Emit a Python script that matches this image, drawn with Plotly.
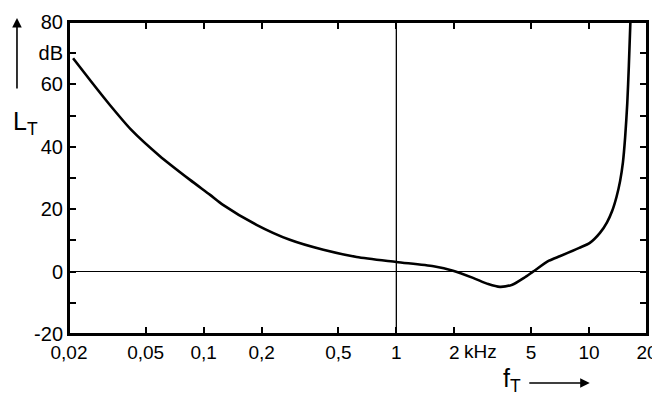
import plotly.graph_objects as go
import math

# Threshold of hearing curve (frequency in kHz, level in dB)
freq_khz = [0.021, 0.026, 0.0326, 0.042, 0.0593, 0.085, 0.108, 0.126, 0.188, 0.28, 0.418, 0.622,
            1.0, 1.56, 1.97, 2.5, 3.0, 3.45, 4.0, 4.6, 5.1, 6.2, 7.1, 8.9, 10.1,
            11.4, 12.4, 13.2, 13.9, 14.5, 15.0, 15.4, 15.8, 16.1, 16.4]
level_db = [68.4, 61.0, 53.4, 45.5, 37.0, 29.4, 24.6, 21.4, 15.0, 10.2, 7.0, 4.7,
            3.1, 1.7, 0.3, -2.0, -4.0, -4.9, -4.2, -2.0, -0.1, 3.5, 5.0, 7.6, 9.2,
            12.4, 15.8, 19.5, 24.0, 29.0, 35.0, 43.0, 54.0, 66.0, 80.0]

x_tickvals = [0.02, 0.05, 0.1, 0.2, 0.5, 1, 2, 5, 10, 20]
x_ticktext = ["0,02", "0,05", "0,1", "0,2", "0,5", "1", "2", "5", "10", "20"]
y_tickvals = [-20, -10, 0, 10, 20, 30, 40, 50, 60, 70, 80]
y_ticktext = ["-20", "", "0", "", "20", "", "40", "", "60", "dB", "80"]

FONT = "Liberation Sans"
x_lo, x_hi = math.log10(0.02), math.log10(20)


def xpaper(f):
    return (math.log10(f) - x_lo) / (x_hi - x_lo)


fig = go.Figure()
fig.add_trace(go.Scatter(
    x=freq_khz, y=level_db, mode="lines",
    line=dict(color="black", width=2.6, shape="spline", smoothing=0.7),
    showlegend=False, hoverinfo="skip",
))

# page body has an 8px margin, so the figure is 652x392 placed at (8, 8)
fig.update_layout(
    width=652, height=392,
    margin=dict(l=61, r=13, t=14, b=66, autoexpand=False),
    paper_bgcolor="white", plot_bgcolor="white",
    font=dict(family=FONT, size=18, color="black"),
    xaxis=dict(
        type="log", range=[x_lo, x_hi],
        tickvals=x_tickvals, ticktext=x_ticktext,
        ticks="inside", ticklen=7, tickwidth=1.5, tickcolor="black",
        showline=True, linecolor="black", linewidth=2, mirror="ticks",
        showgrid=False, zeroline=False, automargin=False,
        tickfont=dict(family=FONT, size=19, color="black"),
    ),
    yaxis=dict(
        range=[-20, 80],
        tickvals=y_tickvals, ticktext=y_ticktext,
        ticks="inside", ticklen=7, tickwidth=1.5, tickcolor="black",
        showline=True, linecolor="black", linewidth=2, mirror="ticks",
        showgrid=False, zeroline=True, zerolinecolor="black", zerolinewidth=1.3,
        automargin=False,
        tickfont=dict(family=FONT, size=20, color="black"),
    ),
    shapes=[
        # vertical reference line at 1 kHz
        dict(type="line", xref="paper", yref="paper",
             x0=xpaper(1), x1=xpaper(1), y0=0, y1=1,
             line=dict(color="black", width=1.3)),
        dict(type="rect", xref="paper", yref="paper", x0=0, x1=1, y0=0, y1=1,
             line=dict(color="black", width=2), layer="above"),
    ],
    annotations=[
        # "kHz" beside the 2 tick label
        dict(x=xpaper(2), y=0, xref="paper", yref="paper", text="kHz",
             showarrow=False, xanchor="left", yanchor="top",
             xshift=8, yshift=-5, font=dict(family=FONT, size=19, color="black")),
        # y title
        dict(x=-0.10, y=0.735, xref="paper", yref="paper",
             text="L<sub>T</sub>", showarrow=False,
             font=dict(family=FONT, size=25, color="black")),
        # y arrow
        dict(x=-0.09, y=1.013, xref="paper", yref="paper", text="",
             showarrow=True, ax=0, ay=72, axref="pixel", ayref="pixel",
             arrowhead=2, arrowsize=1.2, arrowwidth=1.6, arrowcolor="black"),
        # x title
        dict(x=0.785, y=-0.205, xref="paper", yref="paper",
             text="f<sub>T</sub>", showarrow=False,
             font=dict(family=FONT, size=25, color="black")),
        # x arrow
        dict(x=0.901, y=-0.157, xref="paper", yref="paper", text="",
             showarrow=True, ax=-62, ay=0, axref="pixel", ayref="pixel",
             arrowhead=2, arrowsize=1.2, arrowwidth=1.6, arrowcolor="black"),
    ],
)

fig.write_html("out.html")
